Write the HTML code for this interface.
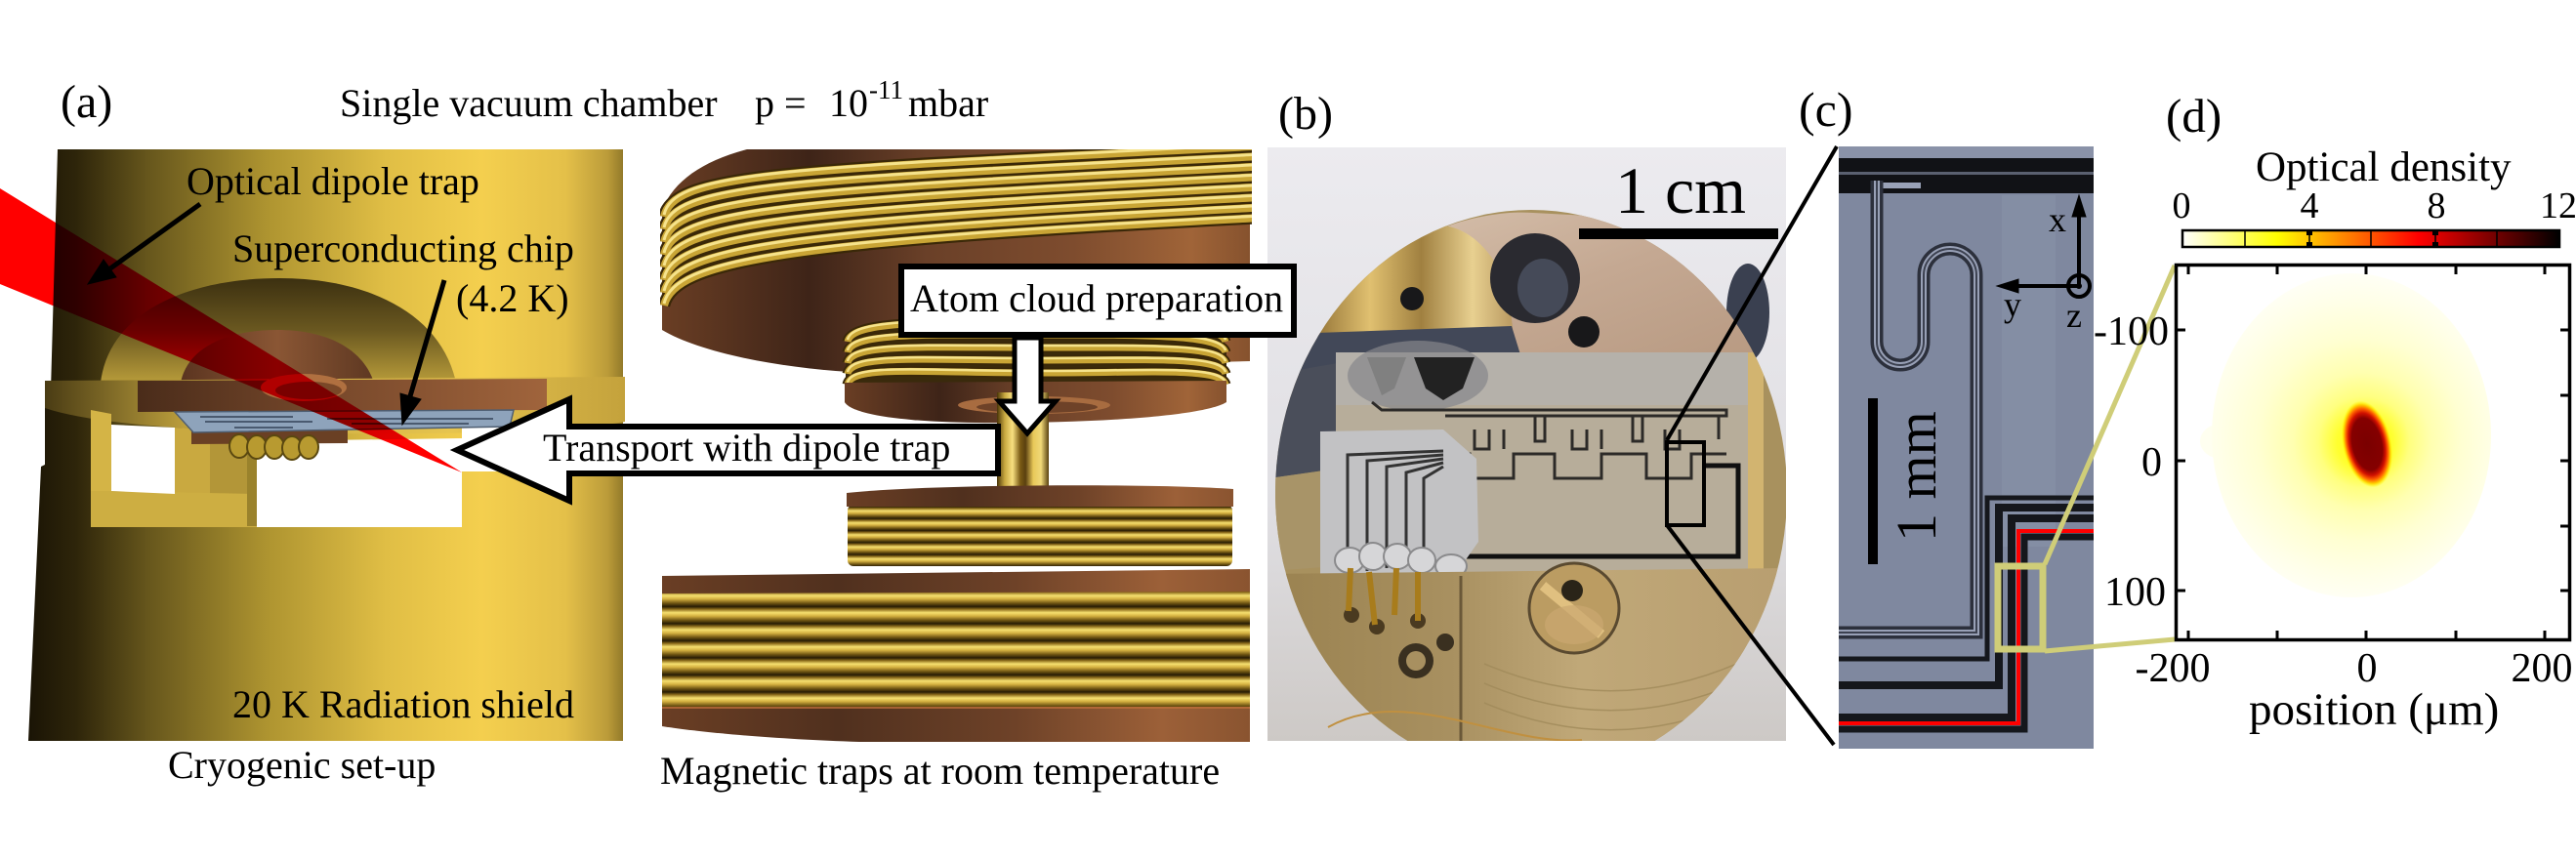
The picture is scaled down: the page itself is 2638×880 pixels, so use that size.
<!DOCTYPE html>
<html><head><meta charset="utf-8"><style>
html,body{margin:0;padding:0;background:#fff;}
body{width:2638px;height:880px;overflow:hidden;}
svg{display:block;}
text{font-family:"Liberation Serif","Times New Roman",serif;fill:#000;}
</style></head><body>
<svg width="2638" height="880" viewBox="0 0 2638 880" xmlns="http://www.w3.org/2000/svg" font-family="'Liberation Serif', serif">
<defs>
<linearGradient id="cylG" gradientUnits="userSpaceOnUse" x1="29" y1="0" x2="640" y2="0">
<stop offset="0" stop-color="#1a1405"/><stop offset="0.08" stop-color="#2e250a"/><stop offset="0.2" stop-color="#66561c"/><stop offset="0.4" stop-color="#ae9430"/><stop offset="0.6" stop-color="#e0be45"/><stop offset="0.76" stop-color="#f4cf4e"/><stop offset="0.9" stop-color="#e4c049"/><stop offset="0.97" stop-color="#bc9c3a"/><stop offset="1" stop-color="#8e7628"/></linearGradient>
<linearGradient id="domeG" x1="0" y1="0" x2="0" y2="1"><stop offset="0" stop-color="#3c3010"/><stop offset="0.5" stop-color="#6a5820"/><stop offset="1" stop-color="#b89c3a"/></linearGradient>
<linearGradient id="rimG" gradientUnits="userSpaceOnUse" x1="46" y1="0" x2="640" y2="0"><stop offset="0" stop-color="#4a3c14"/><stop offset="0.25" stop-color="#c0a23e"/><stop offset="0.7" stop-color="#e6c44e"/><stop offset="1" stop-color="#c4a23c"/></linearGradient>
<linearGradient id="copDome" x1="0" y1="0" x2="1" y2="0"><stop offset="0" stop-color="#5a3420"/><stop offset="0.5" stop-color="#8a5634"/><stop offset="1" stop-color="#5e3822"/></linearGradient>
<linearGradient id="copPlate" x1="0" y1="0" x2="1" y2="0"><stop offset="0" stop-color="#4a2c1a"/><stop offset="0.5" stop-color="#7a4a2c"/><stop offset="1" stop-color="#a0643c"/></linearGradient>
<linearGradient id="copH" x1="0" y1="0" x2="1" y2="0"><stop offset="0" stop-color="#6a3e24"/><stop offset="0.25" stop-color="#3e2418"/><stop offset="0.45" stop-color="#6a4028"/><stop offset="0.7" stop-color="#7e4c2e"/><stop offset="0.9" stop-color="#a06438"/><stop offset="1" stop-color="#86522e"/></linearGradient>
<linearGradient id="copTop" x1="0" y1="0" x2="1" y2="0"><stop offset="0" stop-color="#6a3e24"/><stop offset="0.3" stop-color="#50301e"/><stop offset="0.6" stop-color="#6e4228"/><stop offset="0.85" stop-color="#9c6038"/><stop offset="1" stop-color="#8a5430"/></linearGradient>
<linearGradient id="wireG" x1="0" y1="0" x2="0" y2="1"><stop offset="0" stop-color="#2a1e05"/><stop offset="0.15" stop-color="#8a6a1a"/><stop offset="0.35" stop-color="#f6e070"/><stop offset="0.55" stop-color="#d4b040"/><stop offset="0.8" stop-color="#6e5412"/><stop offset="1" stop-color="#241a04"/></linearGradient>
<pattern id="wireP" x="0" y="604" width="20" height="17.5" patternUnits="userSpaceOnUse"><rect width="20" height="17.5" fill="url(#wireG)"/></pattern>
<pattern id="wireP2" x="0" y="519" width="20" height="12.3" patternUnits="userSpaceOnUse"><rect width="20" height="12.3" fill="url(#wireG)"/></pattern>
<linearGradient id="tubeG" gradientUnits="userSpaceOnUse" x1="1021" y1="0" x2="1074" y2="0"><stop offset="0" stop-color="#4a3608"/><stop offset="0.15" stop-color="#c8a840"/><stop offset="0.3" stop-color="#f8e080"/><stop offset="0.45" stop-color="#7a5a14"/><stop offset="0.55" stop-color="#5a4010"/><stop offset="0.7" stop-color="#e8c858"/><stop offset="0.85" stop-color="#f0d878"/><stop offset="1" stop-color="#5a4210"/></linearGradient>
<linearGradient id="hot" x1="0" y1="0" x2="1" y2="0"><stop offset="0" stop-color="#ffffff"/><stop offset="0.25" stop-color="#ffff00"/><stop offset="0.625" stop-color="#ff0000"/><stop offset="1" stop-color="#000000"/></linearGradient>
<radialGradient id="halo" gradientUnits="userSpaceOnUse" cx="2412" cy="448" r="168" fx="2424" fy="455"><stop offset="0" stop-color="#ffff00"/><stop offset="0.17" stop-color="#ffff30"/><stop offset="0.28" stop-color="#ffff80"/><stop offset="0.42" stop-color="#ffffb0"/><stop offset="0.62" stop-color="#ffffd2"/><stop offset="0.84" stop-color="#ffffe8"/><stop offset="1" stop-color="#fffff6"/></radialGradient>
<radialGradient id="core"><stop offset="0" stop-color="#7a0000"/><stop offset="0.6" stop-color="#850000"/><stop offset="0.72" stop-color="#d01000"/><stop offset="0.82" stop-color="#ff6000"/><stop offset="0.91" stop-color="#ffd000"/><stop offset="1" stop-color="#ffff00" stop-opacity="0"/></radialGradient>
<linearGradient id="pbBg" x1="0" y1="0" x2="0" y2="1"><stop offset="0" stop-color="#ecebef"/><stop offset="0.6" stop-color="#e0dfe3"/><stop offset="1" stop-color="#cdc9c6"/></linearGradient>
<linearGradient id="bronze" x1="0" y1="0" x2="1" y2="1"><stop offset="0" stop-color="#d6c0ac"/><stop offset="0.5" stop-color="#c4a892"/><stop offset="1" stop-color="#b89a82"/></linearGradient>
<linearGradient id="goldLump" x1="0" y1="0" x2="1" y2="0"><stop offset="0" stop-color="#8a6a30"/><stop offset="0.3" stop-color="#e0c070"/><stop offset="0.55" stop-color="#a08040"/><stop offset="0.8" stop-color="#e8d090"/><stop offset="1" stop-color="#b89860"/></linearGradient>
<linearGradient id="brassLow" x1="0" y1="0" x2="1" y2="0"><stop offset="0" stop-color="#9a8250"/><stop offset="0.35" stop-color="#a89060"/><stop offset="0.6" stop-color="#c0a878"/><stop offset="1" stop-color="#b89e70"/></linearGradient>
<clipPath id="clipB"><rect x="1298" y="151" width="531" height="608"/></clipPath>
<clipPath id="clipPuck"><ellipse cx="1568" cy="505" rx="262" ry="290"/></clipPath>
<clipPath id="clipC"><rect x="1883" y="150" width="261" height="617"/></clipPath>
<clipPath id="clipTopCoil"><rect x="676" y="153" width="606" height="260"/></clipPath>
<g id="tw" fill="none">
<path d="M680,222 C690,177 800,175 1282,150"/>
<path d="M680,235 C690,190 800,185.5 1282,160.5"/>
<path d="M680,248 C690,203 800,196 1282,171"/>
<path d="M680,261 C690,216 800,206.5 1282,181.5"/>
<path d="M680,274 C690,229 800,217 1282,192"/>
<path d="M680,287 C690,242 800,227.5 1282,202.5"/>
<path d="M680,300 C690,255 800,238 1282,213"/>
<path d="M680,313 C690,268 800,248.5 1282,223.5"/>
</g>
<g id="mw" fill="none">
<path d="M868,350 C872,330 940,330 1060,330 C1180,330 1250,332 1255,350"/>
<path d="M868,361 C872,341 940,343 1060,343 C1180,343 1250,343 1255,361"/>
<path d="M868,372 C872,352 940,356 1060,356 C1180,356 1250,354 1255,372"/>
<path d="M868,383 C872,363 940,369 1060,369 C1180,369 1250,365 1255,383"/>
<path d="M868,394 C872,374 940,382 1060,382 C1180,382 1250,376 1255,394"/>
</g>
</defs>

<rect x="0" y="0" width="2638" height="880" fill="#fff"/>

<!-- ========== PANEL A: cryostat ========== -->
<path d="M59,153 L638,153 L638,759 L29,759 L42,478 L46,476 L46,418 L52,400 Z" fill="url(#cylG)"/>
<path d="M103,392 C112,318 195,285 286,285 C378,285 452,322 467,392 Z" fill="url(#domeG)"/>
<path d="M185,392 C192,356 232,338 284,338 C336,338 372,358 383,392 Z" fill="url(#copDome)"/>
<path d="M46,390 L640,386 L640,432 Q560,446 330,444 Q110,440 46,418 Z" fill="url(#rimG)"/>
<path d="M93,420 L114,424 L114,540 L93,540 Z" fill="#d4b446"/>
<path d="M179,438 L215,440 L215,506 L179,506 Z" fill="#c9a940"/>
<path d="M215,440 L263,452 L263,506 L215,506 Z" fill="#b39638"/>
<path d="M114,503 L263,506 L263,540 L93,540 L93,503 Z" fill="#cdae42"/>
<path d="M114,435 L179,438 L179,506 L114,503 Z" fill="#fff"/>
<rect x="253" y="455" width="10" height="84" fill="#9a822c"/>
<path d="M263,452 L473,449 L473,540 L263,540 Z" fill="#fff"/>
<path d="M473,437 L640,434 L640,483 L473,483 Z" fill="#fff"/>
<path d="M141,390 L560,388 L560,420 L141,422 Z" fill="url(#copPlate)"/>
<ellipse cx="311" cy="397" rx="44" ry="14" fill="#b07040"/>
<ellipse cx="316" cy="400" rx="34" ry="9" fill="#7a4828"/>
<path d="M196,440 L356,438 L356,454 L196,455 Z" fill="#6a4024"/>
<path d="M179,422 L526,420 L522,437 L198,443 Z" fill="#8ea3bb" stroke="#4e5e72" stroke-width="1.5"/>
<path d="M205,427 H300 M210,432 H320 M335,429 H505 M240,438 H300 M360,434 H480" stroke="#4a5a70" stroke-width="2" fill="none"/>
<g fill="#b89a30" stroke="#5a4810" stroke-width="2">
<ellipse cx="245" cy="457" rx="10" ry="12"/><ellipse cx="263" cy="458" rx="10" ry="12"/><ellipse cx="281" cy="458" rx="10" ry="12"/><ellipse cx="299" cy="459" rx="10" ry="12"/><ellipse cx="316" cy="458" rx="10" ry="12"/>
</g>
<!-- red beam -->
<polygon points="0,193 473,484 0,291" fill="#ff0000" style="mix-blend-mode:multiply"/>
<!-- label arrows -->
<g stroke="#000" stroke-width="5" fill="#000">
<line x1="205" y1="209" x2="113" y2="275"/>
<polygon points="90,291 119,284 106,266" stroke-width="1"/>
<line x1="455" y1="287" x2="420" y2="406"/>
<polygon points="412,435 431,409 410,403" stroke-width="1"/>
</g>
<text x="191" y="199" font-size="40" font-family="'Liberation Serif', serif">Optical dipole trap</text>
<text x="238" y="268" font-size="40" font-family="'Liberation Serif', serif">Superconducting chip</text>
<text x="467" y="319" font-size="40" font-family="'Liberation Serif', serif">(4.2 K)</text>
<text x="238" y="735" font-size="40" font-family="'Liberation Serif', serif">20 K Radiation shield</text>

<!-- ========== PANEL A: coils ========== -->
<path d="M678,338 L678,215 C690,185 720,165 765,153 L1280,153 L1280,370 L870,381 C790,376 715,360 678,338 Z" fill="url(#copH)"/>
<g clip-path="url(#clipTopCoil)">
<use href="#tw" stroke="#3a2808" stroke-width="12.5"/>
<use href="#tw" stroke="#c9a535" stroke-width="8"/>
<use href="#tw" stroke="#f6e38c" stroke-width="3" transform="translate(0,-2)"/>
</g>
<!-- middle coil -->
<path d="M866,360 C870,335 940,326 1060,326 C1180,326 1250,335 1256,360 L1256,398 L866,398 Z" fill="#3a2a0c"/>
<use href="#mw" stroke="#3a2808" stroke-width="11"/>
<use href="#mw" stroke="#c9a535" stroke-width="7"/>
<use href="#mw" stroke="#f6e38c" stroke-width="2.5" transform="translate(0,-2)"/>
<path d="M865,392 L1256,390 L1256,412 C1230,428 1100,434 1000,433 C920,432 872,424 865,412 Z" fill="url(#copH)"/>
<ellipse cx="1059" cy="415" rx="78" ry="9" fill="#a86c40"/>
<ellipse cx="1062" cy="417" rx="62" ry="6" fill="#6e4228"/>
<!-- tube -->
<rect x="1021" y="402" width="53" height="96" fill="url(#tubeG)"/>
<!-- lower small coil -->
<rect x="868" y="517" width="394" height="63" rx="6" fill="url(#wireP2)"/>
<path d="M867,505 C950,496 1180,495 1263,501 L1263,519 L867,519 Z" fill="url(#copTop)"/>
<!-- bottom big coil -->
<rect x="678" y="604" width="602" height="122" fill="url(#wireP)"/>
<path d="M678,590 L1280,583 L1280,606 L678,608 Z" fill="url(#copTop)"/>
<path d="M678,724 L1280,724 L1280,760 L880,760 C790,757 715,750 678,744 Z" fill="url(#copTop)"/>
<line x1="678" y1="725" x2="1280" y2="725" stroke="#c0703a" stroke-width="1.5"/>

<!-- transport arrow -->
<polygon points="468,461 583,409 583,437 1022,437 1022,485 583,485 583,513" fill="#fff" stroke="#000" stroke-width="6" stroke-linejoin="miter"/>
<text x="556" y="472" font-size="40" font-family="'Liberation Serif', serif">Transport with dipole trap</text>

<!-- title & captions -->
<text x="62" y="120" font-size="48" font-family="'Liberation Serif', serif">(a)</text>
<text x="348" y="119" font-size="40" font-family="'Liberation Serif', serif">Single vacuum chamber</text>
<text x="773" y="119" font-size="40" font-family="'Liberation Serif', serif">p =</text>
<text x="849" y="119" font-size="40" font-family="'Liberation Serif', serif">10</text>
<text x="890" y="101" font-size="27" font-family="'Liberation Serif', serif">-11</text>
<text x="930" y="119" font-size="40" font-family="'Liberation Serif', serif">mbar</text>
<text x="172" y="797" font-size="40" font-family="'Liberation Serif', serif">Cryogenic set-up</text>
<text x="676" y="803" font-size="40" font-family="'Liberation Serif', serif">Magnetic traps at room temperature</text>

<!-- ========== PANEL B: photo ========== -->
<g clip-path="url(#clipB)">
<rect x="1298" y="151" width="531" height="608" fill="url(#pbBg)"/>
<ellipse cx="1790" cy="320" rx="22" ry="50" fill="#3a4050"/>
<ellipse cx="1568" cy="505" rx="262" ry="290" fill="#a8915e"/>
<g clip-path="url(#clipPuck)">
<path d="M1425,262 C1470,228 1530,215 1570,218 L1645,222 C1705,242 1765,292 1795,350 L1805,366 L1415,366 Z" fill="url(#bronze)"/>
<path d="M1340,345 C1360,300 1410,250 1455,232 C1500,222 1532,258 1545,300 L1550,345 Z" fill="url(#goldLump)"/>
<path d="M1320,342 L1548,334 L1560,373 L1320,384 Z" fill="#424858"/>
<path d="M1300,384 L1370,372 L1370,480 L1300,490 Z" fill="#4a4e5a"/>
<path d="M1300,490 L1370,480 L1370,580 L1300,585 Z" fill="#a89468"/>
<circle cx="1572" cy="285" r="46" fill="#2a2a30"/>
<ellipse cx="1580" cy="295" rx="26" ry="30" fill="#454a58"/>
<circle cx="1622" cy="340" r="16" fill="#18181a"/>
<circle cx="1446" cy="306" r="12" fill="#18181a"/>
<!-- chip -->
<rect x="1368" y="361" width="433" height="229" fill="#b7ad9a"/>
<rect x="1368" y="361" width="433" height="54" fill="#b5b1aa"/>
<rect x="1790" y="361" width="16" height="229" fill="#d2b470"/>
<ellipse cx="1452" cy="385" rx="72" ry="36" fill="#86868a" opacity="0.7"/>
<path d="M1448,366 L1510,366 L1498,398 L1478,410 L1460,398 Z" fill="#222"/>
<path d="M1400,366 L1440,366 L1428,398 L1415,405 Z" fill="#777" opacity="0.7"/>
<g fill="none" stroke="#2c2a28" stroke-width="3">
<path d="M1405,412 L1415,420 H1768 V426 H1480"/>
<path d="M1572,426 V452 H1582 V426 M1672,426 V452 H1682 V426 M1760,426 V450"/>
<path d="M1498,465 H1505 V490 H1550 V465 H1592 V490 H1640 V465 H1686 V490 H1732 V465 H1768"/>
<path d="M1510,440 V460 H1525 V440 M1540,440 V460 M1610,440 V460 H1625 V440 M1640,440 V460 M1705,440 V460 H1720 V440"/>
</g>
<path d="M1482,548 V570 H1780 V477 H1745" fill="none" stroke="#111" stroke-width="5"/>
<!-- foil -->
<path d="M1352,442 L1478,440 L1512,470 L1514,555 L1488,592 L1352,592 Z" fill="#c2c2c4"/>
<g fill="none" stroke="#333" stroke-width="3">
<path d="M1478,462 L1380,466 V585"/><path d="M1478,466 L1400,472 V585"/><path d="M1478,470 L1420,478 V582"/><path d="M1478,474 L1440,484 V580"/><path d="M1478,478 L1458,490 V575"/>
</g>
<g fill="#d6d6d8" stroke="#8a8a8c" stroke-width="2">
<ellipse cx="1382" cy="574" rx="15" ry="13"/><ellipse cx="1406" cy="570" rx="14" ry="14"/><ellipse cx="1431" cy="570" rx="14" ry="13"/><ellipse cx="1456" cy="574" rx="14" ry="13"/><ellipse cx="1486" cy="580" rx="16" ry="12"/>
</g>
<!-- lower brass -->
<path d="M1300,588 L1830,582 L1830,800 L1300,800 Z" fill="url(#brassLow)"/>
<path d="M1496,590 L1496,800" stroke="#6a5838" stroke-width="3"/>
<g fill="none" stroke="#a08a5a" stroke-width="1.5" opacity="0.8">
<path d="M1520,700 Q1660,760 1800,690"/><path d="M1520,680 Q1660,740 1800,670"/><path d="M1520,720 Q1660,780 1800,710"/>
</g>
<circle cx="1612" cy="623" r="46" fill="#bb9c62" stroke="#5a4a30" stroke-width="3"/>
<path d="M1580,600 L1640,650" stroke="#e0c080" stroke-width="10"/>
<ellipse cx="1612" cy="640" rx="30" ry="20" fill="#caa870" opacity="0.7"/>
<circle cx="1450" cy="677" r="18" fill="#3a3020"/><circle cx="1450" cy="677" r="10" fill="#a89060"/>
<circle cx="1610" cy="605" r="11" fill="#2a2418"/>
<circle cx="1480" cy="658" r="9" fill="#3a3020"/>
<circle cx="1384" cy="630" r="8" fill="#4a3a20"/><circle cx="1410" cy="642" r="8" fill="#4a3a20"/><circle cx="1452" cy="636" r="8" fill="#4a3a20"/>
<g stroke="#a87c1c" stroke-width="6" fill="none">
<path d="M1383,582 L1381,626"/><path d="M1402,586 L1408,640"/><path d="M1430,582 L1428,630"/><path d="M1452,586 L1452,636"/>
</g>
</g>
<path d="M1360,745 C1440,700 1540,765 1620,758" fill="none" stroke="#c09040" stroke-width="2"/>
</g>
<text x="1309" y="132" font-size="48" font-family="'Liberation Serif', serif">(b)</text>
<text x="1654" y="218" font-size="68" font-family="'Liberation Serif', serif">1 cm</text>
<rect x="1617" y="234" width="204" height="11" fill="#000"/>
<rect x="1707" y="453" width="38" height="85" fill="none" stroke="#000" stroke-width="4"/>
<line x1="1707" y1="451" x2="1881" y2="150" stroke="#000" stroke-width="4"/>
<line x1="1707" y1="538" x2="1878" y2="763" stroke="#000" stroke-width="4"/>

<!-- Atom cloud preparation box (overlaps photo) -->
<rect x="923" y="273" width="402" height="70" fill="#fff" stroke="#000" stroke-width="6"/>
<text x="932" y="319" font-size="40" font-family="'Liberation Serif', serif">Atom cloud preparation</text>
<polygon points="1039,346 1066,346 1066,411 1081,411 1052,444 1023,411 1039,411" fill="#fff" stroke="#000" stroke-width="5"/>

<!-- ========== PANEL C ========== -->
<g clip-path="url(#clipC)">
<rect x="1883" y="150" width="261" height="617" fill="#7f889f"/>
<rect x="1883" y="150" width="261" height="12" fill="#8a92a8"/>
<rect x="1883" y="162" width="261" height="36" fill="#111216"/>
<rect x="1883" y="176" width="261" height="3" fill="#5a6070"/>
<rect x="2050" y="200" width="55" height="360" fill="#8a93aa" opacity="0.5"/>
<path d="M1918,190 H1967" stroke="#9aa2b8" stroke-width="6" fill="none"/>
<g fill="none">
<path d="M1922,185 V350 A24,24 0 0 0 1970,350 V282 A27,27 0 0 1 2024,282 V648 H1883" stroke="#2c303c" stroke-width="13"/>
<path d="M1922,185 V350 A24,24 0 0 0 1970,350 V282 A27,27 0 0 1 2024,282 V648 H1883" stroke="#98a0b6" stroke-width="6"/>
<path d="M1922,185 V350 A24,24 0 0 0 1970,350 V282 A27,27 0 0 1 2024,282 V648 H1883" stroke="#3c4150" stroke-width="2"/>
</g>
<g fill="none" stroke="#15171c">
<path d="M2144,510 H2035 V675 H1883" stroke-width="5"/>
<path d="M2144,520 H2047 V702 H1883" stroke-width="8"/>
<path d="M2144,531 H2060 V735 H1883" stroke-width="8"/>
<path d="M2144,550 H2073 V747 H1883" stroke-width="7"/>
</g>
<path d="M2144,544 H2067 V741 H1883" fill="none" stroke="#ff0000" stroke-width="4"/>
</g>
<text x="1842" y="129" font-size="50" font-family="'Liberation Serif', serif">(c)</text>
<rect x="1913" y="408" width="10" height="170" fill="#000"/>
<text transform="translate(1982,555) rotate(-90)" font-size="58" font-family="'Liberation Serif', serif">1 mm</text>
<g stroke="#000" stroke-width="4" fill="#000">
<line x1="2129" y1="293" x2="2129" y2="218"/>
<polygon points="2129,200 2122,222 2136,222" stroke-width="1"/>
<line x1="2129" y1="293" x2="2062" y2="293"/>
<polygon points="2045,293 2067,286 2067,300" stroke-width="1"/>
</g>
<circle cx="2129" cy="293" r="11" fill="none" stroke="#000" stroke-width="4"/>
<circle cx="2129" cy="293" r="3" fill="#000"/>
<text x="2098" y="237" font-size="36" font-family="'Liberation Serif', serif">x</text>
<text x="2052" y="324" font-size="36" font-family="'Liberation Serif', serif">y</text>
<text x="2116" y="335" font-size="36" font-family="'Liberation Serif', serif">z</text>
<!-- green zoom box & lines -->
<rect x="2046" y="580" width="46" height="85" fill="none" stroke="#cfcd78" stroke-width="7"/>
<line x1="2094" y1="578" x2="2227" y2="272" stroke="#cfcd78" stroke-width="5"/>
<line x1="2094" y1="667" x2="2227" y2="655" stroke="#cfcd78" stroke-width="5"/>

<!-- ========== PANEL D ========== -->
<text x="2218" y="135" font-size="49" font-family="'Liberation Serif', serif">(d)</text>
<text x="2310" y="185" font-size="43" font-family="'Liberation Serif', serif">Optical density</text>
<g font-size="38" text-anchor="middle" font-family="'Liberation Serif', serif">
<text x="2234" y="223">0</text><text x="2365" y="223">4</text><text x="2495" y="223">8</text><text x="2620" y="223">12</text>
</g>
<rect x="2235" y="236" width="386" height="17" fill="url(#hot)" stroke="#000" stroke-width="2.5"/>
<g stroke="#000" stroke-width="1.5">
<line x1="2299" y1="237" x2="2299" y2="252"/><line x1="2365" y1="237" x2="2365" y2="252"/><line x1="2428" y1="237" x2="2428" y2="252"/><line x1="2494" y1="237" x2="2494" y2="252"/><line x1="2557" y1="237" x2="2557" y2="252"/>
</g>
<g fill="#000">
<rect x="2362" y="236" width="6" height="5"/><rect x="2362" y="248" width="6" height="5"/><rect x="2491" y="236" width="6" height="5"/><rect x="2491" y="248" width="6" height="5"/>
</g>
<!-- plot -->
<ellipse cx="2275" cy="452" rx="22" ry="18" fill="#fffff0"/>
<ellipse cx="2408" cy="446" rx="143" ry="166" fill="url(#halo)"/>
<ellipse cx="2424" cy="455" rx="25" ry="45" transform="rotate(-12 2424 455)" fill="url(#core)"/>
<rect x="2228.5" y="271.5" width="403" height="384" fill="none" stroke="#000" stroke-width="3.5"/>
<g stroke="#000" stroke-width="3">
<line x1="2241" y1="272" x2="2241" y2="281"/><line x1="2332" y1="272" x2="2332" y2="281"/><line x1="2423" y1="272" x2="2423" y2="281"/><line x1="2515" y1="272" x2="2515" y2="281"/><line x1="2606" y1="272" x2="2606" y2="281"/>
<line x1="2241" y1="655" x2="2241" y2="646"/><line x1="2332" y1="655" x2="2332" y2="646"/><line x1="2423" y1="655" x2="2423" y2="646"/><line x1="2515" y1="655" x2="2515" y2="646"/><line x1="2606" y1="655" x2="2606" y2="646"/>
<line x1="2229" y1="338" x2="2238" y2="338"/><line x1="2229" y1="472" x2="2238" y2="472"/><line x1="2229" y1="605" x2="2238" y2="605"/>
<line x1="2631" y1="338" x2="2622" y2="338"/><line x1="2631" y1="405" x2="2622" y2="405"/><line x1="2631" y1="472" x2="2622" y2="472"/><line x1="2631" y1="539" x2="2622" y2="539"/><line x1="2631" y1="605" x2="2622" y2="605"/>
</g>
<g font-size="42" text-anchor="end" font-family="'Liberation Serif', serif">
<text x="2221" y="353">-100</text><text x="2214" y="487">0</text><text x="2218" y="620">100</text>
</g>
<g font-size="42" text-anchor="middle" font-family="'Liberation Serif', serif">
<text x="2225" y="698">-200</text><text x="2424" y="698">0</text><text x="2603" y="698">200</text>
</g>
<text x="2303" y="742" font-size="47" font-family="'Liberation Serif', serif">position (μm)</text>
</svg>
</body></html>
